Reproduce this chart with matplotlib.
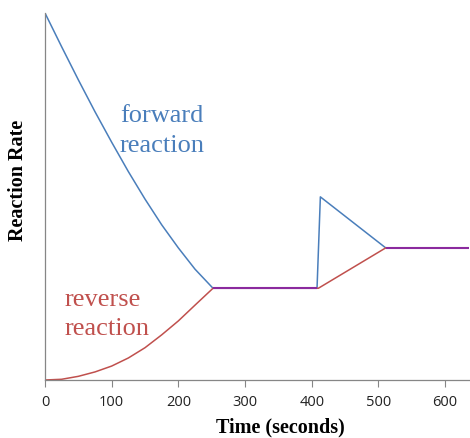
import matplotlib
matplotlib.use("Agg")
import matplotlib.pyplot as plt

BLUE = "#4a7ebb"
RED = "#c0504d"
PURPLE = "#8b2a9e"
AXIS = "#868686"

# forward reaction rate
fwd_t = [0, 25, 50, 75, 100, 125, 150, 175, 200, 225, 252, 408, 413, 511]
fwd_v = [1.0, 0.908, 0.818, 0.731, 0.648, 0.568, 0.493, 0.423, 0.36, 0.302, 0.25,
         0.25, 0.499, 0.36]
# reverse reaction rate
rev_t = [0, 25, 50, 75, 100, 125, 150, 175, 200, 225, 252, 410, 511]
rev_v = [0.0, 0.002, 0.01, 0.022, 0.038, 0.06, 0.088, 0.123, 0.161, 0.204, 0.25,
         0.25, 0.36]
# equilibrium stretches where both rates coincide
eq_segments = [([252, 408], [0.25, 0.25]), ([511, 636], [0.36, 0.36])]
xticks = [0, 100, 200, 300, 400, 500, 600]

fig = plt.figure(figsize=(4.7, 4.38), dpi=100)
ax = fig.add_axes([0.0957, 0.1324, 0.9023, 0.8379])

ax.plot(fwd_t, fwd_v, color=BLUE, lw=1.1)
ax.plot(rev_t, rev_v, color=RED, lw=1.1)
for xs, ys in eq_segments:
    ax.plot(xs, ys, color=PURPLE, lw=1.5, solid_capstyle="butt")

serif = "Liberation Serif"
ax.text(112.5, 0.704, "forward", color=BLUE, fontsize=19, family=serif)
ax.text(112.5, 0.622, "reaction", color=BLUE, fontsize=19, family=serif)
ax.text(30, 0.202, "reverse", color=RED, fontsize=19, family=serif)
ax.text(30, 0.123, "reaction", color=RED, fontsize=19, family=serif)

ax.set_xlim(0, 636)
ax.set_ylim(0, 1.0)
ax.set_xticks(xticks)
ax.set_xticklabels([str(t) for t in xticks], family="Open Sans", fontsize=10.5)
ax.set_yticks([])
ax.tick_params(axis="x", colors=AXIS, length=5, width=0.8, labelcolor="#222222", pad=6)
for s in ["top", "right"]:
    ax.spines[s].set_visible(False)
for s in ["left", "bottom"]:
    ax.spines[s].set_color(AXIS)
    ax.spines[s].set_linewidth(0.9)

# axis titles sit off-centre in the original, so place them by hand
fig.text(0.596, 0.012, "Time (seconds)", family=serif, fontweight="bold",
         fontsize=14.5, ha="center", va="baseline")
fig.text(0.039, 0.588, "Reaction Rate", family=serif, fontweight="bold",
         fontsize=14.5, rotation=90, ha="center", va="center")

fig.savefig("out.png", dpi=100)
